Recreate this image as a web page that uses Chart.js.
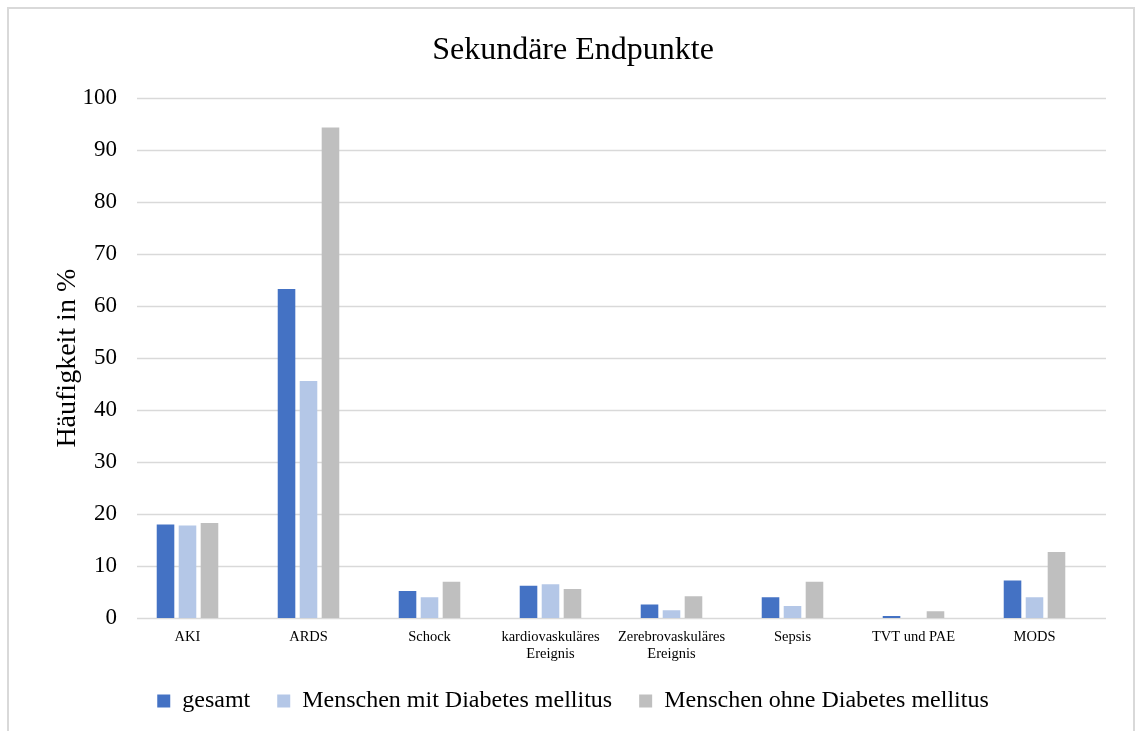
<!DOCTYPE html>
<html>
<head>
<meta charset="utf-8">
<script src="https://cdn.jsdelivr.net/npm/chart.js@4.4.0/dist/chart.umd.min.js"></script>
<style>
  html, body { margin: 0; padding: 0; background: #fff; }
  #frame { position: absolute; left: 7px; top: 7px; width: 1128px; height: 760px; border: 2px solid #d9d9d9; box-sizing: border-box; }
  #wrap { position: absolute; left: 0; top: 0; width: 1136px; height: 731px; }
</style>
</head>
<body>
<div id="frame"></div>
<div id="wrap"><canvas id="c" width="1136" height="731"></canvas></div>
<script>
const categories = ["AKI", "ARDS", "Schock", ["kardiovaskuläres", "Ereignis"], ["Zerebrovaskuläres", "Ereignis"], "Sepsis", "TVT und PAE", "MODS"];
const gesamt = [18.0, 63.3, 5.2, 6.2, 2.6, 4.0, 0.4, 7.2];
const mitDiabetes = [17.8, 45.6, 4.0, 6.5, 1.5, 2.3, 0, 4.0];
const ohneDiabetes = [18.3, 94.4, 7.0, 5.6, 4.2, 7.0, 1.3, 12.7];
const seriesNames = ["gesamt", "Menschen mit Diabetes mellitus", "Menschen ohne Diabetes mellitus"];
const yTicks = [0, 10, 20, 30, 40, 50, 60, 70, 80, 90, 100];

const serif = "'Liberation Serif', 'Times New Roman', serif";

const gridPlugin = {
  id: 'customGrid',
  beforeDatasetsDraw(chart) {
    const ctx = chart.ctx;
    const y = chart.scales.y;
    const a = chart.chartArea;
    ctx.save();
    ctx.strokeStyle = '#d9d9d9';
    ctx.lineWidth = 1.5;
    yTicks.forEach(v => {
      const py = Math.round(y.getPixelForValue(v)) + 0.5;
      ctx.beginPath();
      ctx.moveTo(a.left + 10, py);
      ctx.lineTo(a.right + 11, py);
      ctx.stroke();
    });
    ctx.restore();
  }
};

new Chart(document.getElementById('c'), {
  type: 'bar',
  data: {
    labels: categories,
    datasets: [
      { label: seriesNames[0], data: gesamt, backgroundColor: '#4472C4' },
      { label: seriesNames[1], data: mitDiabetes, backgroundColor: '#B4C7E7' },
      { label: seriesNames[2], data: ohneDiabetes, backgroundColor: '#BFBFBF' }
    ]
  },
  options: {
    responsive: false,
    animation: false,
    devicePixelRatio: 1,
    datasets: { bar: { categoryPercentage: 0.545, barPercentage: 0.8, borderWidth: 0 } },
    layout: { padding: { left: 10, right: 0, top: 0, bottom: 8 } },
    plugins: {
      title: {
        display: true,
        text: 'Sekundäre Endpunkte',
        color: '#000',
        font: { family: serif, size: 32, weight: 'normal' },
        padding: { top: 31, bottom: 29 }
      },
      legend: {
        display: true,
        position: 'bottom',
        labels: {
          color: '#000',
          font: { family: serif, size: 24 },
          boxWidth: 13,
          boxHeight: 13,
          padding: 27
        }
      },
      tooltip: { enabled: false }
    },
    scales: {
      x: {
        grid: { display: false, drawTicks: false },
        border: { display: false },
        ticks: { color: '#000', font: { family: serif, size: 14.5 }, padding: 10, maxRotation: 0, autoSkip: false },
        afterFit(scale) { scale.height = 44; }
      },
      y: {
        min: 0, max: 100,
        grid: { display: false, drawTicks: false },
        border: { display: false },
        ticks: { color: '#000', stepSize: 10, font: { family: serif, size: 23 }, padding: 10 },
        title: {
          display: true,
          text: 'Häufigkeit in %',
          color: '#000',
          font: { family: serif, size: 28 },
          padding: { top: 41, bottom: 0 }
        },
        afterFit(scale) { scale.width = 117; }
      },
      yRight: {
        position: 'right',
        display: true,
        grid: { display: false, drawTicks: false },
        border: { display: false },
        ticks: { display: false },
        afterFit(scale) { scale.width = 41; }
      }
    }
  },
  plugins: [gridPlugin]
});
</script>
</body>
</html>
